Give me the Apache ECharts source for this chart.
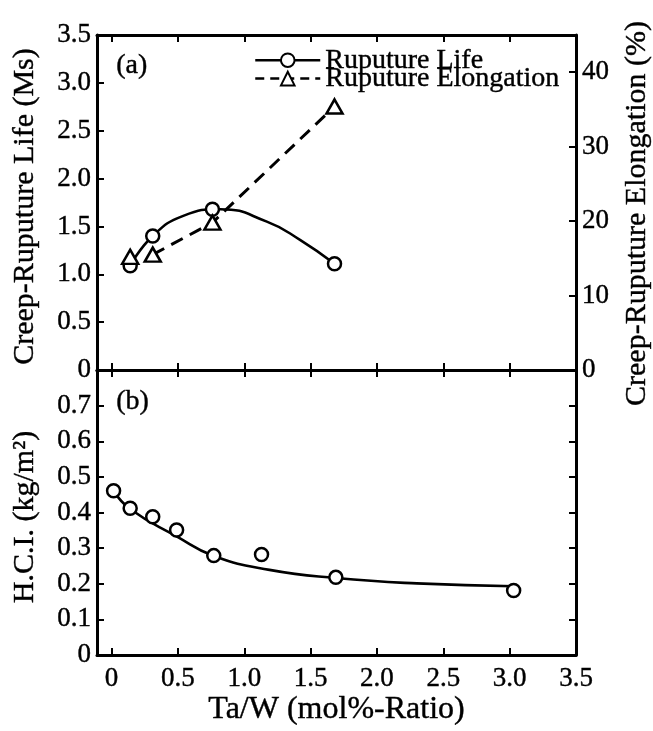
<!DOCTYPE html>
<html>
<head>
<meta charset="utf-8">
<title>Ta/W ratio - creep rupture and H.C.I.</title>
<script src="https://cdn.jsdelivr.net/npm/echarts@6/dist/echarts.min.js"></script>
<style>
  html, body { margin: 0; padding: 0; background: #fff; }
  #chart { width: 653px; height: 731px; }
</style>
</head>
<body>
<div id="chart"></div>
<script>
// tick labels
var xTicks = [0, 0.5, 1.0, 1.5, 2.0, 2.5, 3.0, 3.5];
var lifeTicks = [0, 0.5, 1.0, 1.5, 2.0, 2.5, 3.0, 3.5];
var elongTicks = [0, 10, 20, 30, 40];
var hciTicks = [0, 0.1, 0.2, 0.3, 0.4, 0.5, 0.6, 0.7];

// (a) rupture life (Ms)
var lifeX = [0.14, 0.31, 0.76, 1.68];
var lifeY = [1.09, 1.40, 1.68, 1.11];
// (a) rupture elongation (%)
var elongX = [0.14, 0.31, 0.76, 1.68];
var elongY = [15.2, 15.5, 19.8, 35.4];
// fitted curve drawn through the life points
var lifeFitX = [0.14, 0.31, 0.54, 0.82, 1.17, 1.42, 1.68];
var lifeFitY = [1.09, 1.40, 1.61, 1.68, 1.55, 1.36, 1.11];

// (b) H.C.I. (kg/m2)
var hciX = [0.015, 0.14, 0.31, 0.49, 0.77, 1.13, 1.69, 3.03];
var hciY = [0.461, 0.412, 0.388, 0.351, 0.279, 0.282, 0.218, 0.181];
// fitted curve, traced
var hciFitX = [0.015, 0.14, 0.49, 0.77, 1.19, 1.69, 2.3, 3.03];
var hciFitY = [0.461, 0.41, 0.333, 0.278, 0.239, 0.216, 0.201, 0.193];

var FONT = 'Liberation Serif';

function zip (xs, ys) {
  return xs.map(function (x, i) { return [x, ys[i]] });
}

function fmt (v) {
  return v === 0 ? '0' : v.toFixed(1);
}

function frameLine () {
  return { onZero: false, lineStyle: { color: '#000', width: 3 } };
}

function ticks (values) {
  return { inside: true, length: 7, customValues: values, lineStyle: { color: '#000', width: 2 } };
}

function xAxisFor (gridIndex, position) {
  return {
    type: 'value', gridIndex: gridIndex, position: position,
    min: -0.11, max: 3.5,
    axisLine: frameLine(),
    axisTick: ticks(xTicks),
    axisLabel: { show: false },
    splitLine: { show: false }
  };
}

// the scanned figure has heavy type, a thin outline thickens the glyphs a little
var ink = { color: '#000', fontFamily: FONT, textBorderColor: '#000', textBorderWidth: 0.4 };
var labelStyle = Object.assign({ fontSize: 27 }, ink);
var nameStyle = Object.assign({ fontSize: 30, lineHeight: 30 }, ink);

var xBottom = xAxisFor(1, 'bottom');
xBottom.axisLabel = Object.assign({ show: true, customValues: xTicks, margin: 10, formatter: fmt }, labelStyle);
xBottom.name = 'Ta/W (mol%-Ratio)';
xBottom.nameLocation = 'middle';
xBottom.nameGap = 31;
xBottom.nameTextStyle = Object.assign({}, nameStyle, { fontSize: 32, lineHeight: 32 });

var markerStyle = { color: '#fff', borderColor: '#000', borderWidth: 2.5 };
var fitLine = { color: '#000', width: 2.6 };

var option = {
  animation: false,
  backgroundColor: '#fff',
  grid: [
    { left: 97, right: 77, top: 35, height: 335, outerBoundsMode: 'none' },
    { left: 97, right: 77, top: 370, height: 285, outerBoundsMode: 'none' }
  ],
  xAxis: [
    xAxisFor(0, 'bottom'),
    xAxisFor(0, 'top'),
    xBottom,
    xAxisFor(1, 'top')
  ],
  yAxis: [
    {
      type: 'value', gridIndex: 0, position: 'left', min: 0, max: 3.5,
      axisLine: frameLine(), axisTick: ticks(lifeTicks),
      axisLabel: Object.assign({ customValues: lifeTicks, margin: 6, formatter: fmt }, labelStyle),
      splitLine: { show: false },
      name: 'Creep-Ruputure Life (Ms)', nameLocation: 'middle', nameRotate: 90, nameGap: 57,
      nameTextStyle: Object.assign({ padding: [0, 8, 0, 0] }, nameStyle)
    },
    {
      type: 'value', gridIndex: 0, position: 'right', min: 0, max: 45,
      axisLine: frameLine(), axisTick: ticks(elongTicks),
      axisLabel: Object.assign({ customValues: elongTicks, margin: 6 }, labelStyle),
      splitLine: { show: false },
      name: 'Creep-Ruputure Elongation (%)', nameLocation: 'middle', nameRotate: 90, nameGap: 46,
      nameTextStyle: Object.assign({ padding: [0, 22, 0, 0] }, nameStyle)
    },
    {
      type: 'value', gridIndex: 1, position: 'left', min: 0, max: 0.8,
      axisLine: frameLine(), axisTick: ticks(hciTicks),
      axisLabel: Object.assign({ customValues: hciTicks, margin: 6, formatter: fmt }, labelStyle),
      splitLine: { show: false },
      name: 'H.C.I. (kg/m²)', nameLocation: 'middle', nameRotate: 90, nameGap: 57,
      nameTextStyle: Object.assign({ padding: [0, 9, 0, 0] }, nameStyle)
    },
    {
      type: 'value', gridIndex: 1, position: 'right', min: 0, max: 0.8,
      axisLine: frameLine(), axisTick: ticks(hciTicks),
      axisLabel: { show: false },
      splitLine: { show: false }
    }
  ],
  legend: {
    left: 254, top: 46, orient: 'vertical', padding: 0,
    itemWidth: 65, itemHeight: 17, itemGap: -10, selectedMode: false,
    textStyle: Object.assign({ fontSize: 28 }, ink),
    itemStyle: { color: '#fff', borderColor: '#000', borderWidth: 2 },
    lineStyle: { color: '#000', width: 2.5, opacity: 1 },
    data: [
      { name: 'Ruputure Life', lineStyle: { type: 'solid' } },
      { name: 'Ruputure Elongation', lineStyle: { type: [9, 6] } }
    ]
  },
  graphic: [
    { type: 'text', left: 116, top: 51, style: { text: '(a)', fill: '#000', stroke: '#000', lineWidth: 0.4, font: '28px "Liberation Serif"' } },
    { type: 'text', left: 116, top: 387, style: { text: '(b)', fill: '#000', stroke: '#000', lineWidth: 0.4, font: '28px "Liberation Serif"' } }
  ],
  series: [
    {
      name: 'lifeFit', type: 'line', xAxisIndex: 0, yAxisIndex: 0,
      data: zip(lifeFitX, lifeFitY), smooth: 0.5, showSymbol: false,
      lineStyle: fitLine, z: 3
    },
    {
      name: 'elongLink', type: 'line', xAxisIndex: 0, yAxisIndex: 1,
      data: zip(elongX.slice(1), elongY.slice(1)), showSymbol: false,
      lineStyle: { color: '#000', width: 3, type: [13, 8] }, z: 3
    },
    {
      name: 'Ruputure Life', type: 'line', xAxisIndex: 0, yAxisIndex: 0,
      data: zip(lifeX, lifeY), symbol: 'circle', symbolSize: 13,
      itemStyle: markerStyle, lineStyle: { opacity: 0 }, z: 5
    },
    {
      name: 'Ruputure Elongation', type: 'line', xAxisIndex: 0, yAxisIndex: 1,
      data: zip(elongX, elongY), symbol: 'triangle', symbolSize: [16, 14],
      itemStyle: markerStyle, lineStyle: { opacity: 0 }, z: 5
    },
    {
      name: 'hciFit', type: 'line', xAxisIndex: 2, yAxisIndex: 2,
      data: zip(hciFitX, hciFitY), smooth: 0.5, showSymbol: false,
      lineStyle: fitLine, z: 3
    },
    {
      name: 'H.C.I.', type: 'line', xAxisIndex: 2, yAxisIndex: 2,
      data: zip(hciX, hciY), symbol: 'circle', symbolSize: 13,
      itemStyle: markerStyle, lineStyle: { opacity: 0 }, z: 5
    }
  ]
};

var myChart = echarts.init(document.getElementById('chart'));
myChart.setOption(option);
</script>
</body>
</html>
